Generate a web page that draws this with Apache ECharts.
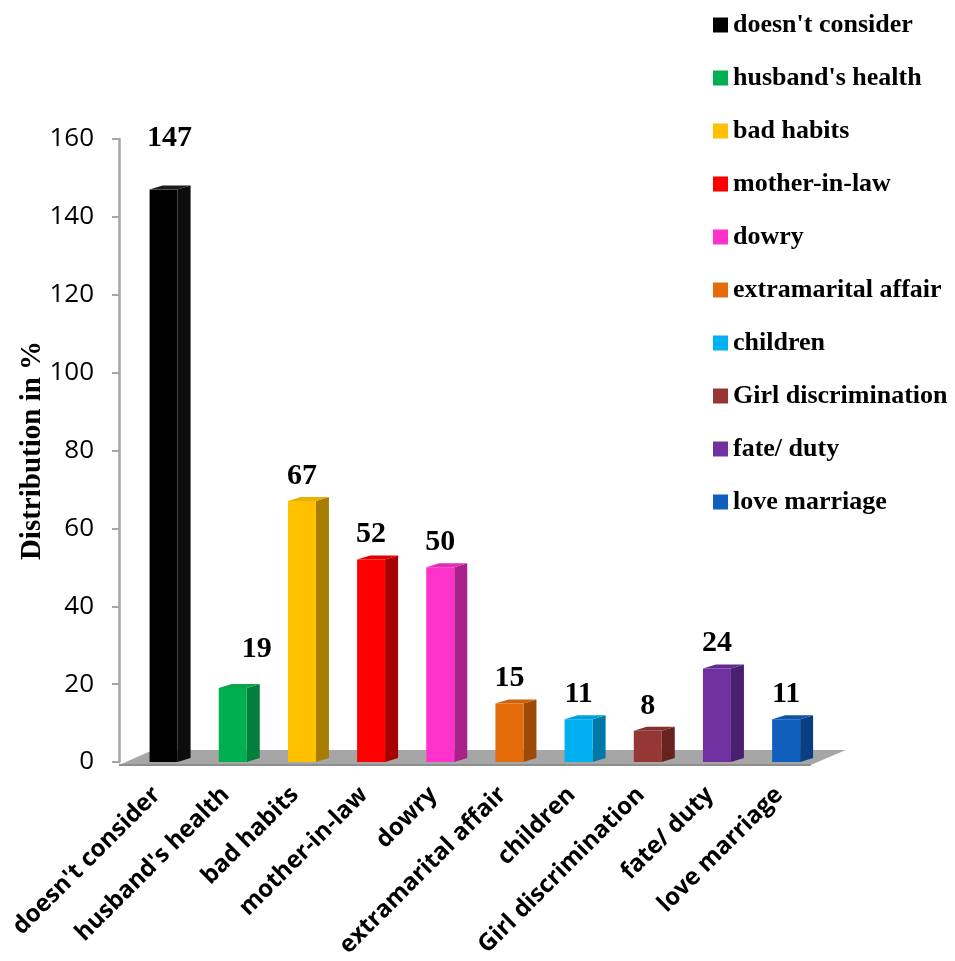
<!DOCTYPE html>
<html><head><meta charset="utf-8">
<script src="https://cdn.jsdelivr.net/npm/echarts@6/dist/echarts.min.js"></script>
<style>html,body{margin:0;padding:0;background:#fff}#c{width:955px;height:961px}</style>
</head><body><div id="c"></div>
<script>
// ---- data ----
const categories = ["doesn't consider", "husband's health", "bad habits", "mother-in-law", "dowry",
  "extramarital affair", "children", "Girl discrimination", "fate/ duty", "love marriage"];
const values = [147, 19, 67, 52, 50, 15, 11, 8, 24, 11];
const yMin = 0, yMax = 160, yStep = 20;

// ---- styling ----
const frontColors = ['#000000', '#00B050', '#FFC000', '#FF0000', '#FF33CC', '#E46C0A', '#00B0F0', '#953735', '#7030A0', '#105FBC'];
const sideColors  = ['#0d0d0d', '#00803A', '#A67D00', '#A80000', '#A8228A', '#9C4A07', '#0079A8', '#66231F', '#4A1F72', '#093F82'];
const topColors   = ['#1c1c1c', '#0BA34C', '#E8B000', '#E00000', '#E22DB5', '#CF6209', '#00A0DA', '#85302E', '#62298F', '#0E55A8'];
// extra label shifts [dx, extra gap] (layout only)
const labelShift = {0: [6, 26], 1: [24, 14]};

const HW = 14, DX = 13, DY = -4, AXIS_OFFSET = 10;

function barRender(params, api) {
  const i = api.value(0), v = api.value(1);
  const base = api.coord([i, 0]);
  const top = api.coord([i, v]);
  const cx = base[0], yb = base[1], yt = top[1];
  const L = cx - HW, R = cx + HW;
  const k = i;
  const sh = labelShift[k] || [0, 0];
  return {
    type: 'group',
    children: [
      {type: 'polygon', shape: {points: [[R, yb], [R + DX, yb + DY], [R + DX, yt + DY], [R, yt]]},
        style: {fill: sideColors[k]}},
      {type: 'rect', shape: {x: L, y: yt, width: 2 * HW, height: yb - yt},
        style: {fill: frontColors[k]}},
      {type: 'polygon', shape: {points: [[L, yt], [R, yt], [R + DX, yt + DY], [L + DX, yt + DY]]},
        style: {fill: topColors[k]}},
      {type: 'text', style: {text: String(v), x: cx + sh[0], y: yt - 25 - sh[1],
        align: 'center', verticalAlign: 'middle',
        font: 'bold 30px "Liberation Serif", "Times New Roman", serif', fill: '#000'}}
    ]
  };
}

function floorRender(params, api) {
  const cs = params.coordSys;
  const x0 = cs.x - AXIS_OFFSET, x1 = cs.x + cs.width - AXIS_OFFSET, yb = cs.y + cs.height;
  return {
    type: 'group',
    children: [
      {type: 'polygon', shape: {points: [[x0, yb + 3], [x1, yb + 3], [x1 + 35, yb - 12], [x0 + 34, yb - 12]]},
        style: {fill: '#A6A6A6'}},
      {type: 'line', shape: {x1: x0, y1: yb + 3, x2: x1, y2: yb + 3},
        style: {stroke: '#8E8E8E', lineWidth: 2}}
    ]
  };
}

const series = [{
  type: 'custom', name: 'floor', silent: true, z: 1,
  renderItem: floorRender, data: [[0, 0]]
}];
categories.forEach((c, i) => {
  series.push({
    type: 'custom', name: c, z: 2,
    itemStyle: {color: frontColors[i]},
    renderItem: barRender,
    data: [[i, values[i]]]
  });
});

const chart = echarts.init(document.getElementById('c'), null, {renderer: 'canvas'});
chart.setOption({
  animation: false,
  backgroundColor: '#ffffff',
  grid: {left: 129, top: 139, width: 691.7, height: 623, containLabel: false, outerBoundsMode: 'none'},
  legend: {
    data: categories, orient: 'vertical', left: 708, top: 7,
    icon: 'rect', itemWidth: 15, itemHeight: 15, itemGap: 27,
    textStyle: {fontFamily: '"Liberation Serif", "Times New Roman", serif', fontWeight: 'bold',
      fontSize: 26, lineHeight: 26, color: '#000'}
  },
  xAxis: {
    type: 'category', data: categories, boundaryGap: true,
    axisLine: {show: false}, axisTick: {show: false},
    axisLabel: {rotate: 45, interval: 0, margin: 22, padding: [0, 10, 0, 0], color: '#000',
      fontFamily: '"Open Sans", "Noto Sans", sans-serif', fontWeight: 'bold', fontSize: 24}
  },
  yAxis: {
    type: 'value', min: yMin, max: yMax, interval: yStep, offset: AXIS_OFFSET,
    splitLine: {show: false},
    axisLine: {show: true, lineStyle: {color: '#A6A6A6', width: 2.5}},
    axisTick: {show: true, length: 7, lineStyle: {color: '#A6A6A6', width: 2}},
    axisLabel: {margin: 25, color: '#000', fontFamily: '"Open Sans", sans-serif', fontSize: 26},
    name: 'Distribution in %', nameLocation: 'middle', nameGap: 72, nameMoveOverlap: false,
    nameTextStyle: {fontFamily: '"Liberation Serif", "Times New Roman", serif', fontWeight: 'bold',
      fontSize: 29, color: '#000'}
  },
  series: series
});
</script>
</body></html>
